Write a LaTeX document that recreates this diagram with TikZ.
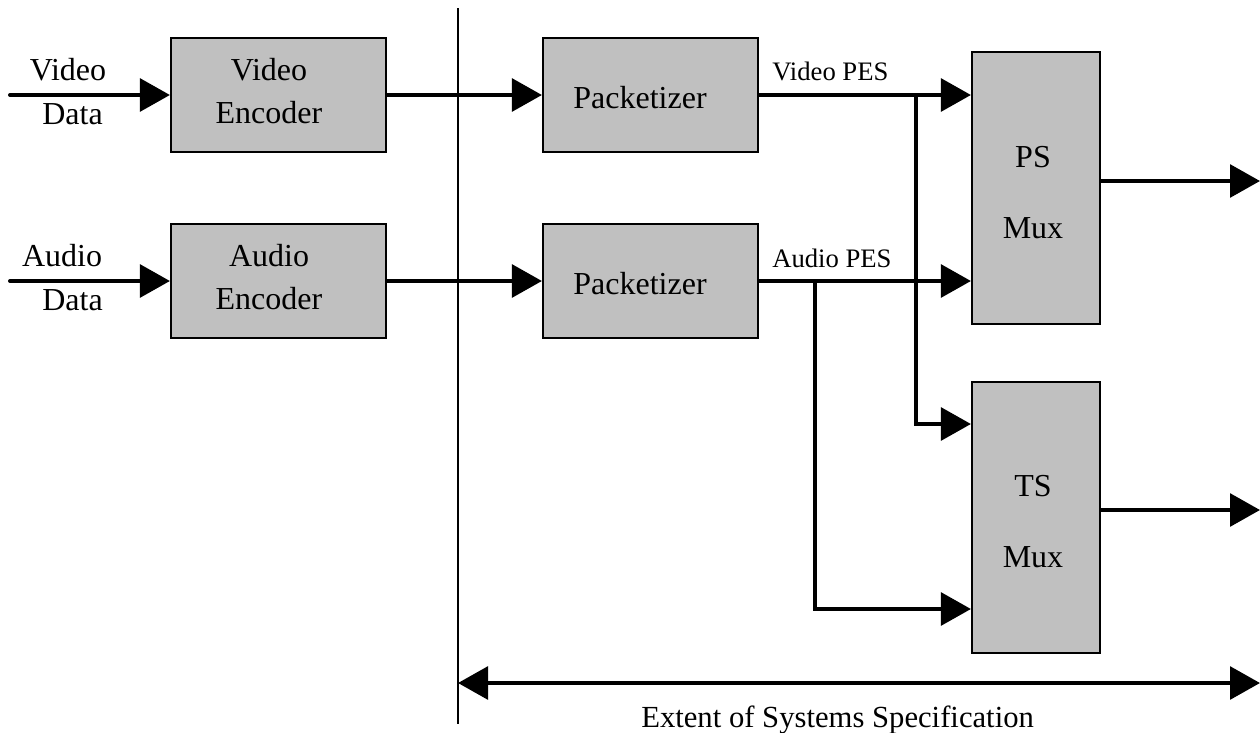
\documentclass[tikz,border=0pt]{standalone}
\usepackage{fontspec}
\setmainfont{Liberation Serif}
\usetikzlibrary{arrows.meta}
\tikzset{
  box/.style={draw=black, line width=1.6pt, fill=boxgray, rectangle, inner sep=0pt},
  conn/.style={line width=3pt, line cap=round, line join=miter, -{Triangle[length=22.5pt,width=24.5pt]}},
  bothconn/.style={line width=3pt, {Triangle[length=22.5pt,width=24.5pt]}-{Triangle[length=22.5pt,width=24.5pt]}},
  plain/.style={line width=3pt, line cap=round},
  divider/.style={line width=1.4pt},
  boxtext/.style={font=\fontsize{24}{32}\selectfont, inner sep=0pt, anchor=base},
  smalltext/.style={font=\fontsize{20}{24}\selectfont, inner sep=0pt, anchor=base west},
  bigtext/.style={font=\fontsize{23}{28}\selectfont, inner sep=0pt, anchor=base west},
}
\definecolor{boxgray}{HTML}{C0C0C0}
\begin{document}
\begin{tikzpicture}[x=0.75pt,y=-0.75pt]
\useasboundingbox (0,0) rectangle (1260,732);
% boxes
\node[box, minimum width=161.25pt, minimum height=85.5pt] (venc) at (278.5,95) {};
\node[box, minimum width=161.25pt, minimum height=85.5pt] (aenc) at (278.5,281) {};
\node[box, minimum width=161.25pt, minimum height=85.5pt] (pk1) at (650.5,95) {};
\node[box, minimum width=161.25pt, minimum height=85.5pt] (pk2) at (650.5,281) {};
\node[box, minimum width=96pt, minimum height=204pt] (psmux) at (1036,188) {};
\node[box, minimum width=96pt, minimum height=203.25pt] (tsmux) at (1036,517.5) {};
% box texts
\node[boxtext] (t1) at (269,80) {Video};
\node[boxtext] (t2) at (269,123) {Encoder};
\node[boxtext] (t3) at (269,266) {Audio};
\node[boxtext] (t4) at (269,309) {Encoder};
\node[boxtext] (t5) at (640,108) {Packetizer};
\node[boxtext] (t6) at (640,294) {Packetizer};
\node[boxtext] (t7) at (1033,167) {PS};
\node[boxtext] (t8) at (1033,238) {Mux};
\node[boxtext] (t9) at (1033,496) {TS};
\node[boxtext] (t10) at (1033,567) {Mux};
% input labels
\node[boxtext] (l1) at (68,80) {Video};
\node[boxtext] (l2) at (72.5,124) {Data};
\node[boxtext] (l3) at (62,266) {Audio};
\node[boxtext] (l4) at (72.5,310) {Data};
\node[smalltext] (l5) at (772,80) {Video PES};
\node[smalltext] (l6) at (772,267) {Audio PES};
\node[bigtext] (l7) at (641,727) {Extent of Systems Specification};
% coordinates
\coordinate (vin) at (10,95);
\coordinate (ain) at (10,281);
\coordinate (vb) at (916,95);
\coordinate (ab) at (815,281);
\coordinate (ts1) at (0,424);
\coordinate (ts2) at (0,609);
\coordinate (pso) at (1260,181);
\coordinate (tso) at (1260,510);
\coordinate (vtop) at (458,8);
\coordinate (vbot) at (458,724);
\coordinate (sl) at (458,683);
\coordinate (sr) at (1260,683);
% connectors
\draw[divider] (vtop) -- (vbot);
\draw[conn] (vin) -- (venc);
\draw[conn] (ain) -- (aenc);
\draw[conn] (venc) -- (pk1);
\draw[conn] (aenc) -- (pk2);
\draw[conn] (pk1.east) -- (pk1.east -| psmux.west);
\draw[conn] (pk2.east) -- (pk2.east -| psmux.west);
\draw[conn] (vb) |- (tsmux.west |- ts1);
\draw[conn] (ab) |- (tsmux.west |- ts2);
\draw[conn] (psmux.east |- pso) -- (pso);
\draw[conn] (tsmux.east |- tso) -- (tso);
\draw[bothconn] (sl) -- (sr);
\end{tikzpicture}
\end{document}
